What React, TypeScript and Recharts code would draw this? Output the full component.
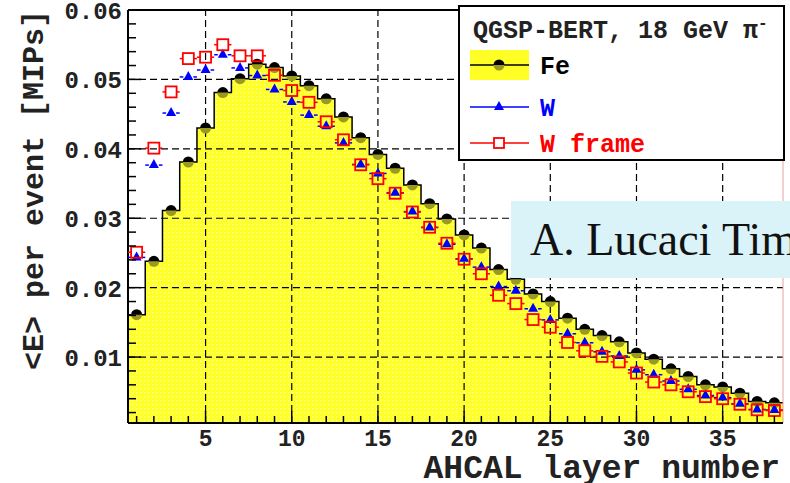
import React from "react";
import { ComposedChart, Area, Scatter, XAxis, YAxis, ReferenceLine } from "recharts";

// mean energy per event in each AHCAL layer, 18 GeV pi-, QGSP-BERT
const layers = [
  1, 2, 3, 4, 5, 6, 7, 8, 9, 10, 11, 12, 13, 14, 15, 16, 17, 18, 19,
  20, 21, 22, 23, 24, 25, 26, 27, 28, 29, 30, 31, 32, 33, 34, 35, 36, 37, 38,
];
const feValues = [
  0.0161, 0.0238, 0.0311, 0.0381, 0.0430, 0.0481, 0.0501, 0.0522, 0.0517, 0.0505,
  0.0491, 0.0472, 0.0446, 0.0416, 0.0392, 0.0372, 0.0348, 0.0321, 0.0299, 0.0276,
  0.0257, 0.0226, 0.0212, 0.0191, 0.0180, 0.0156, 0.0140, 0.0131, 0.0122, 0.0106,
  0.0097, 0.0083, 0.0072, 0.0060, 0.0057, 0.0048, 0.0036, 0.0034,
];
const wValues = [
  0.0245, 0.0378, 0.0453, 0.0505, 0.0515, 0.0537, 0.0518, 0.0507, 0.0487, 0.0469,
  0.0450, 0.0434, 0.0410, 0.0379, 0.0366, 0.0338, 0.0311, 0.0288, 0.0264, 0.0243,
  0.0231, 0.0203, 0.0197, 0.0171, 0.0155, 0.0135, 0.0122, 0.0109, 0.0103, 0.0083,
  0.0076, 0.0067, 0.0055, 0.0046, 0.0043, 0.0034, 0.0026, 0.0025,
];
const wFrameValues = [
  0.0251, 0.0401, 0.0482, 0.0530, 0.0532, 0.0550, 0.0534, 0.0534, 0.0506, 0.0484,
  0.0467, 0.0439, 0.0413, 0.0377, 0.0357, 0.0336, 0.0309, 0.0287, 0.0264, 0.0241,
  0.0220, 0.0189, 0.0177, 0.0154, 0.0143, 0.0121, 0.0109, 0.0101, 0.0093, 0.0077,
  0.0064, 0.0060, 0.0050, 0.0043, 0.0040, 0.0032, 0.0024, 0.0023,
];

const xLabelTicks = [5, 10, 15, 20, 25, 30, 35];
const yTicks = [
  0.002, 0.004, 0.006, 0.008, 0.01, 0.012, 0.014, 0.016, 0.018, 0.02,
  0.022, 0.024, 0.026, 0.028, 0.03, 0.032, 0.034, 0.036, 0.038, 0.04,
  0.042, 0.044, 0.046, 0.048, 0.05, 0.052, 0.054, 0.056, 0.058, 0.06,
];
const yGrid = [0.01, 0.02, 0.03, 0.04, 0.05];

const W = 790;
const H = 483;
const margin = { top: 10, right: 7, bottom: 59, left: 127 };
const halfBin = (W - margin.left - 1 - margin.right) / layers.length / 2;

const MONO = "'Liberation Mono', 'DejaVu Sans Mono', monospace";

// histogram edges for the stepped Fe area, points for the markers
const feSteps = [
  ...layers.map((l, i) => ({ x: l - 0.5, fe: feValues[i] })),
  { x: layers[layers.length - 1] + 0.5, fe: feValues[feValues.length - 1] },
];
const points = layers.map((l, i) => ({ x: l, fe: feValues[i], w: wValues[i], wf: wFrameValues[i] }));

const FeDot = (p: any) => {
  const { cx, cy } = p;
  const r = 5.5;
  return (
    <g>
      <path d={`M${cx - r},${cy} A${r},${r} 0 0 1 ${cx + r},${cy} Z`} fill="#000" />
      <path d={`M${cx - r},${cy} A${r},${r} 0 0 0 ${cx + r},${cy} Z`} fill="#9a9a22" />
    </g>
  );
};

const WTriangle = (p: any) => {
  const { cx, cy } = p;
  return (
    <g>
      <line x1={cx - halfBin} x2={cx - 5} y1={cy + 1} y2={cy + 1} stroke="#0000ff" strokeWidth={1.5} />
      <line x1={cx + 5} x2={cx + halfBin} y1={cy + 1} y2={cy + 1} stroke="#0000ff" strokeWidth={1.5} />
      <polygon points={`${cx},${cy - 5} ${cx - 5},${cy + 4} ${cx + 5},${cy + 4}`} fill="#0000ff" />
    </g>
  );
};

const WFrameSquare = (p: any) => {
  const { cx, cy } = p;
  const s = 5.5;
  return (
    <g>
      <line x1={cx - halfBin} x2={cx - s} y1={cy} y2={cy} stroke="#ff0000" strokeWidth={1.5} />
      <line x1={cx + s} x2={cx + halfBin} y1={cy} y2={cy} stroke="#ff0000" strokeWidth={1.5} />
      <rect x={cx - s} y={cy - s} width={2 * s} height={2 * s} fill="none" stroke="#ff0000" strokeWidth={1.8} />
    </g>
  );
};

// ticks point into the frame; only every fifth layer carries a number
const XTick = (p: any) => {
  const { x, y, payload } = p;
  const v = payload.value;
  const major = xLabelTicks.includes(v);
  return (
    <g>
      <line x1={x} x2={x} y1={y} y2={y - (major ? 12 : 7)} stroke="#000" strokeWidth={1.5} />
      {major && (
        <text x={x} y={y + 23} textAnchor="middle" fontFamily={MONO} fontWeight="bold" fontSize={23} fill="#222">
          {v}
        </text>
      )}
    </g>
  );
};

const YTick = (p: any) => {
  const { x, y, payload } = p;
  const v = payload.value;
  const major = Math.round(v * 1000) % 10 === 0;
  return (
    <g>
      <line x1={x} x2={x + (major ? 13 : 8)} y1={y} y2={y} stroke="#000" strokeWidth={1.5} />
      {major && (
        <text x={x - 6} y={y + 9} textAnchor="end" fontFamily={MONO} fontWeight="bold" fontSize={24} fill="#222">
          {v.toFixed(2)}
        </text>
      )}
    </g>
  );
};

function LegendBox() {
  const rows = [
    { name: "Fe", color: "#000", y: 65 },
    { name: "W", color: "#0000ff", y: 107 },
    { name: "W frame", color: "#ff0000", y: 143 },
  ];
  return (
    <svg width={327} height={156} style={{ position: "absolute", left: 458, top: 5 }}>
      <rect x={1} y={1} width={325} height={154} fill="#fff" stroke="#000" strokeWidth={2} />
      <text x={15} y={33} fontFamily={MONO} fontWeight="bold" fontSize={25} fill="#222">
        QGSP-BERT, 18 GeV π<tspan dy={-10} fontSize={16}>-</tspan>
      </text>
      <rect x={12} y={45} width={59} height={30} fill="#ffff26" />
      {rows.map((r) => (
        <g key={r.name}>
          <line x1={12} x2={71} y1={r.y - 5} y2={r.y - 5} stroke={r.color} strokeWidth={1.5} />
          <text x={82} y={r.y + 4} fontFamily={MONO} fontWeight="bold" fontSize={25} fill={r.color}>
            {r.name}
          </text>
        </g>
      ))}
      <FeDot cx={41} cy={60} />
      <polygon points={`41,96 36,105 46,105`} fill="#0000ff" />
      <rect x={36} y={133} width={10} height={10} fill="#fff" stroke="#ff0000" strokeWidth={1.8} />
    </svg>
  );
}

export default function App() {
  return (
    <div style={{ position: "absolute", left: 0, top: 0, width: W, height: H, overflow: "hidden", background: "#fff" }}>
      <ComposedChart width={W} height={H} data={feSteps} margin={margin}>
        <defs>
          <pattern id="feFill" width={4} height={4} patternUnits="userSpaceOnUse">
            <rect width={4} height={4} fill="#ffff2a" />
            <rect width={1.2} height={1.2} fill="#ffffb4" />
          </pattern>
        </defs>
        <XAxis
          dataKey="x"
          type="number"
          domain={[0.5, 38.5]}
          ticks={layers}
          interval={0}
          height={1}
          tickSize={0}
          tickMargin={0}
          tickLine={false}
          axisLine={{ stroke: "#000", strokeWidth: 2 }}
          tick={<XTick />}
          allowDataOverflow
          label={{
            content: ({ viewBox }: any) => (
              <text x={viewBox.x + viewBox.width - 3} y={viewBox.y + 55} textAnchor="end" fontFamily={MONO} fontWeight="bold" fontSize={33} fill="#222">
                AHCAL layer number
              </text>
            ),
          }}
        />
        <YAxis
          type="number"
          domain={[0.0005, 0.06]}
          ticks={yTicks}
          interval={0}
          width={1}
          tickSize={0}
          tickMargin={0}
          tickLine={false}
          axisLine={{ stroke: "#000", strokeWidth: 2 }}
          tick={<YTick />}
          allowDataOverflow
          label={{
            content: ({ viewBox }: any) => (
              <text
                transform={`translate(43, ${viewBox.y}) rotate(-90)`}
                textAnchor="end"
                fontFamily={MONO}
                fontWeight="bold"
                fontSize={30}
                fill="#222"
              >
                {"<E> per event [MIPs]"}
              </text>
            ),
          }}
        />
        <Area
          type="stepAfter"
          dataKey="fe"
          stroke="#000"
          strokeWidth={1.5}
          fill="url(#feFill)"
          fillOpacity={1}
          dot={false}
          activeDot={false}
          isAnimationActive={false}
        />
        {xLabelTicks.map((v) => (
          <ReferenceLine key={`vx${v}`} x={v} stroke="#000" strokeWidth={1.2} strokeDasharray="7 4" />
        ))}
        {yGrid.map((v) => (
          <ReferenceLine key={`hy${v}`} y={v} stroke="#000" strokeWidth={1.2} strokeDasharray="7 4" />
        ))}
        <ReferenceLine y={0.06} stroke="#000" strokeWidth={2} />
        <ReferenceLine x={38.5} stroke="#e9a0a0" strokeWidth={1} />
        <Scatter data={points} dataKey="fe" shape={FeDot} isAnimationActive={false} />
        <Scatter data={points} dataKey="w" shape={WTriangle} isAnimationActive={false} />
        <Scatter data={points} dataKey="wf" shape={WFrameSquare} isAnimationActive={false} />
      </ComposedChart>
      <LegendBox />
      <svg width={279} height={77} style={{ position: "absolute", left: 511, top: 201 }}>
        <rect width={279} height={77} fill="#daf3f8" />
        <text x={19} y={54} fontFamily="'Liberation Serif', 'DejaVu Serif', serif" fontSize={46} fill="#111">
          A. Lucaci Timoce
        </text>
      </svg>
    </div>
  );
}
